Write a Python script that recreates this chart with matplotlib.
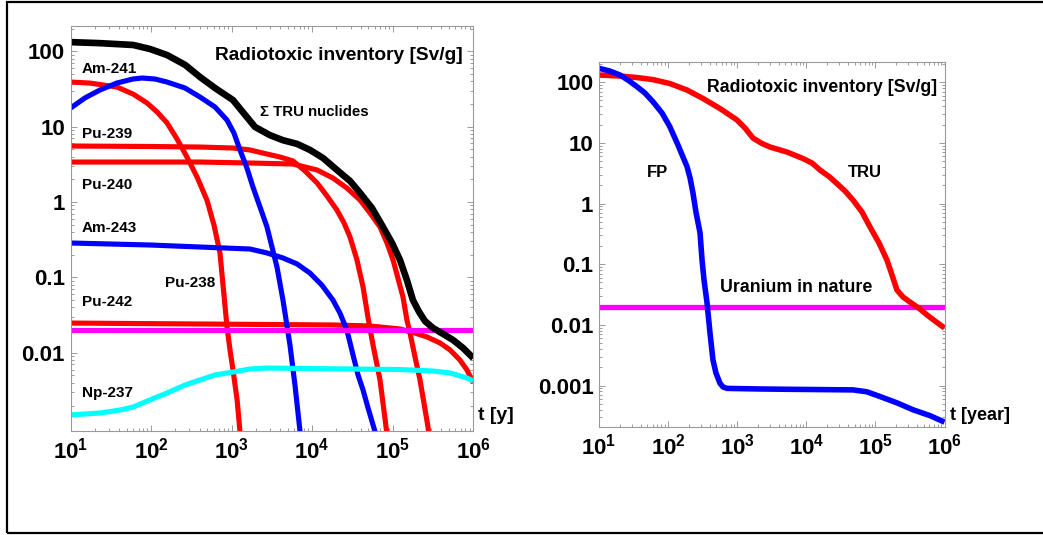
import matplotlib
matplotlib.use("Agg")
import matplotlib.pyplot as plt
from matplotlib import font_manager
from matplotlib.ticker import FixedLocator, FixedFormatter, LogLocator, NullFormatter
from matplotlib.patches import Rectangle

# ---------------------------------------------------------------- fonts
_installed = {f.name for f in font_manager.fontManager.ttflist}
FONT = next((f for f in ["Liberation Sans", "Arial", "DejaVu Sans"] if f in _installed), "DejaVu Sans")
plt.rcParams["font.family"] = [FONT, "DejaVu Sans"]
plt.rcParams["mathtext.fontset"] = "custom"
plt.rcParams["mathtext.rm"] = FONT
plt.rcParams["mathtext.bf"] = FONT + ":bold"

# ---------------------------------------------------------------- data: TRU nuclides [Sv/g] vs time [y]
pu238_t = [10, 17.5, 37.8, 60, 89, 119, 158, 210, 279, 372, 494, 604, 717, 782, 877, 955, 1040, 1170, 1270]
pu238_v = [39, 37.8, 33.5, 27, 20.6, 15.6, 11.2, 6.85, 3.95, 2.15, 1.06, 0.495, 0.211, 0.079, 0.022,
           0.0109, 0.0059, 0.00237, 0.0009]

am241_t = [10, 15.1, 23.2, 37.8, 59.7, 77.3, 112, 158, 264, 405, 622, 877, 1070, 1270, 1550, 1840,
           2250, 2750, 3170, 3660, 4340, 5300, 6120, 7070]
am241_v = [17.6, 24, 30.6, 37.9, 42.8, 44.1, 42.8, 39, 32.5, 24.7, 18.2, 12.2, 8.2, 4.9, 2.82, 1.58,
           0.86, 0.466, 0.253, 0.137, 0.05, 0.0127, 0.0037, 0.0009]

pu240_t = [10, 97, 405, 1040, 1690, 2750, 3990, 5790, 8150, 11500, 15300, 20300, 24800, 29500, 36000,
           42800, 49400, 56900, 69500, 82600, 84000]
pu240_v = [5.53, 5.45, 5.36, 5.2, 4.9, 4.33, 3.95, 3.5, 2.58, 1.79, 1.2, 0.78, 0.53, 0.343, 0.17,
           0.0746, 0.029, 0.0127, 0.00436, 0.00104, 0.0009]

pu239_t = [10, 405, 1690, 5790, 11500, 18100, 27000, 39300, 52200, 69500, 84900, 101000, 116000,
           134000, 150000, 164000, 189000, 218000, 244000, 274000, 278000]
pu239_v = [3.39, 3.39, 3.29, 3.19, 2.66, 2.08, 1.53, 1.06, 0.715, 0.466, 0.286, 0.17, 0.098, 0.055,
           0.0272, 0.0183, 0.0088, 0.00436, 0.00216, 0.00104, 0.0009]

am243_t = [10, 97, 405, 1690, 2750, 4340, 6480, 9400, 13200, 18100, 22100, 27000, 32100, 37100, 42800,
           49400, 60300]
am243_v = [0.286, 0.269, 0.253, 0.238, 0.211, 0.181, 0.151, 0.114, 0.079, 0.05, 0.0337, 0.02, 0.0094,
           0.00508, 0.00321, 0.00185, 0.0009]

pu242_t = [10, 405, 18100, 52200, 123000, 189000, 267000, 387000, 515000, 684000, 836000, 1000000]
pu242_v = [0.0248, 0.0241, 0.0234, 0.0227, 0.0207, 0.0183, 0.0162, 0.0135, 0.0109, 0.008, 0.0059, 0.004]

np237_t = [10, 23.2, 41, 60, 97, 158, 264, 405, 622, 1040, 1690, 2750, 7070, 123000, 316000, 515000,
           836000, 1000000]
np237_v = [0.0015, 0.00159, 0.00174, 0.00191, 0.00237, 0.00293, 0.00374, 0.00436, 0.00508, 0.00556,
           0.0061, 0.00628, 0.0062, 0.006, 0.00574, 0.0054, 0.00463, 0.00423]

tru_sum_t = [10, 23, 60, 97, 158, 264, 405, 622, 1040, 1470, 1950, 2990, 4340, 6480, 9400, 13600,
             20300, 29500, 39300, 55300, 75700, 98000, 123000, 150000, 178000, 212000, 251000, 316000,
             421000, 560000, 745000, 1000000]
tru_sum_v = [132, 128, 121, 107, 89, 66, 45.5, 32.5, 22.5, 14.3, 9.9, 7.7, 6.6, 5.9, 4.9, 3.84,
             2.66, 1.9, 1.32, 0.83, 0.466, 0.286, 0.17, 0.092, 0.05, 0.035, 0.0264, 0.0213,
             0.0178, 0.0148, 0.0116, 0.0085]

uranium_level = 0.02
time_range = [10, 1000000]

# ---------------------------------------------------------------- data: fission products vs TRU total
tru_t = [10, 20.1, 35.5, 60.4, 106, 188, 320, 564, 993, 1300, 1690, 2290, 2990, 5260, 8960, 12100,
         15800, 21300, 27800, 36300, 47400, 64000, 83600, 113000, 147000, 174000, 205000, 251000,
         317000, 442000, 558000, 728000, 1000000]
tru_v = [131, 126, 119, 110, 94.8, 74.1, 53.7, 36.7, 23.8, 17.5, 12, 9.73, 8.53, 7.05, 5.51, 4.65,
         3.56, 2.79, 2.13, 1.61, 1.14, 0.724, 0.41, 0.223, 0.117, 0.0664, 0.0376, 0.0288,
         0.0238, 0.0183, 0.0146, 0.0116, 0.0089]

fp_t = [10, 14.4, 20.1, 26.3, 35.5, 46.3, 60.4, 81.7, 106, 139, 188, 208, 229, 253, 290, 310, 331,
        366, 404, 446, 493, 564, 623, 712, 2140, 5260, 15800, 47400, 75500, 117000, 205000, 350000,
        617000, 1000000]
fp_v = [169, 152, 131, 108, 84, 66, 47.5, 31, 18.4, 9.2, 4.04, 2.63, 1.49, 0.724, 0.327, 0.117, 0.055,
        0.023, 0.00736, 0.00264, 0.00161, 0.00109, 0.00095, 0.0009, 0.00088, 0.00087, 0.00086,
        0.00085, 0.00079, 0.00066, 0.00052, 0.0004, 0.00032, 0.00025]

x_ticks = [10, 100, 1000, 10000, 100000, 1000000]
x_labels = [r"$\mathbf{10^{%d}}$" % e for e in range(1, 7)]
left_y_ticks = [0.01, 0.1, 1, 10, 100]
left_y_labels = ["0.01", "0.1", "1", "10", "100"]
right_y_ticks = [0.001, 0.01, 0.1, 1, 10, 100]
right_y_labels = ["0.001", "0.01", "0.1", "1", "10", "100"]

# ---------------------------------------------------------------- figure
W, H = 1043, 535
fig = plt.figure(figsize=(W / 100, H / 100), dpi=100)
fig.patch.set_facecolor("white")

# outer border
fig.add_artist(Rectangle((7 / W, 2 / H), 1.2, (H - 3.5) / H, transform=fig.transFigure,
                         fill=False, edgecolor="black", linewidth=1.6))

RED, BLUE, CYAN, MAG, BLK = "#ff0000", "#0000ff", "#00ffff", "#ff00ff", "#000000"
GRID = "#9a9a9a"


def style_axes(ax, ylim, yticks, ylabels):
    ax.set_xscale("log")
    ax.set_yscale("log")
    ax.set_xlim(*time_range)
    ax.set_ylim(*ylim)
    for s in ax.spines.values():
        s.set_color(GRID)
        s.set_linewidth(0.8)
    ax.xaxis.set_major_locator(FixedLocator(x_ticks))
    ax.xaxis.set_major_formatter(FixedFormatter(x_labels))
    ax.yaxis.set_major_locator(FixedLocator(yticks))
    ax.yaxis.set_major_formatter(FixedFormatter(ylabels))
    ax.xaxis.set_minor_locator(LogLocator(base=10, subs=range(2, 10), numticks=20))
    ax.yaxis.set_minor_locator(LogLocator(base=10, subs=range(2, 10), numticks=20))
    ax.xaxis.set_minor_formatter(NullFormatter())
    ax.yaxis.set_minor_formatter(NullFormatter())
    ax.tick_params(which="both", direction="in", top=True, right=True, color=GRID, width=0.7)
    ax.tick_params(which="major", length=4.5)
    ax.tick_params(which="minor", length=2.5)
    ax.tick_params(axis="x", which="major", labelsize=16, pad=5)
    ax.tick_params(axis="y", which="major", labelsize=16, pad=4)
    for lab in ax.get_yticklabels():
        lab.set_fontweight("bold")


def txt(ax, x, y, s, size=11, ha="left", **kw):
    ax.text(x, y, s, transform=ax.transAxes, fontsize=size, ha=ha, va="center",
            fontweight="bold", color="black", clip_on=False, **kw)


line_kw = dict(solid_capstyle="butt", solid_joinstyle="round")

# ---- left panel: individual nuclides
axL = fig.add_axes([70.5 / W, (H - 431) / H, 402.8 / W, 405 / H])
style_axes(axL, (0.000918, 216), left_y_ticks, left_y_labels)
axL.plot(pu238_t, pu238_v, color=RED, lw=3.7, **line_kw)
axL.plot(pu240_t, pu240_v, color=RED, lw=3.7, **line_kw)
axL.plot(pu239_t, pu239_v, color=RED, lw=3.7, **line_kw)
axL.plot(pu242_t, pu242_v, color=RED, lw=3.7, **line_kw)
axL.plot(am241_t, am241_v, color=BLUE, lw=3.7, **line_kw)
axL.plot(am243_t, am243_v, color=BLUE, lw=3.7, **line_kw)
axL.plot(np237_t, np237_v, color=CYAN, lw=3.7, **line_kw)
axL.plot(time_range, [uranium_level] * 2, color=MAG, lw=3.7, **line_kw)
axL.plot(tru_sum_t, tru_sum_v, color=BLK, lw=4.8, **line_kw)


def axfrac_L(px, py):
    return (px - 70.5) / 402.8, (431 - py) / 405


txt(axL, *axfrac_L(463, 55), "Radiotoxic inventory [Sv/g]", size=13.8, ha="right")
txt(axL, *axfrac_L(82, 69), "Am-241")
txt(axL, *axfrac_L(260, 112), "Σ TRU nuclides", size=10.8)
txt(axL, *axfrac_L(82, 134), "Pu-239")
txt(axL, *axfrac_L(82, 185), "Pu-240")
txt(axL, *axfrac_L(82, 228), "Am-243")
txt(axL, *axfrac_L(165, 283), "Pu-238")
txt(axL, *axfrac_L(82, 302), "Pu-242")
txt(axL, *axfrac_L(82, 393), "Np-237")
txt(axL, *axfrac_L(478, 415), "t [y]", size=14)

# ---- right panel: fission products vs transuranics
axR = fig.add_axes([599 / W, (H - 427) / H, 345.5 / W, 365.3 / H])
style_axes(axR, (0.000208, 217), right_y_ticks, right_y_labels)
axR.plot(time_range, [uranium_level] * 2, color=MAG, lw=3.8, **line_kw)
axR.plot(tru_t, tru_v, color=RED, lw=4.0, **line_kw)
axR.plot(fp_t, fp_v, color=BLUE, lw=4.0, **line_kw)


def axfrac_R(px, py):
    return (px - 599) / 345.5, (427 - py) / 365.3


txt(axR, *axfrac_R(937, 87), "Radiotoxic inventory [Sv/g]", size=12.8, ha="right")
txt(axR, *axfrac_R(647, 172), "FP", size=12)
txt(axR, *axfrac_R(848, 172), "TRU", size=12)
txt(axR, *axfrac_R(720, 288), "Uranium in nature", size=12.8)
txt(axR, *axfrac_R(950, 415), "t [year]", size=13)

fig.savefig("out.png", dpi=100, facecolor="white")
